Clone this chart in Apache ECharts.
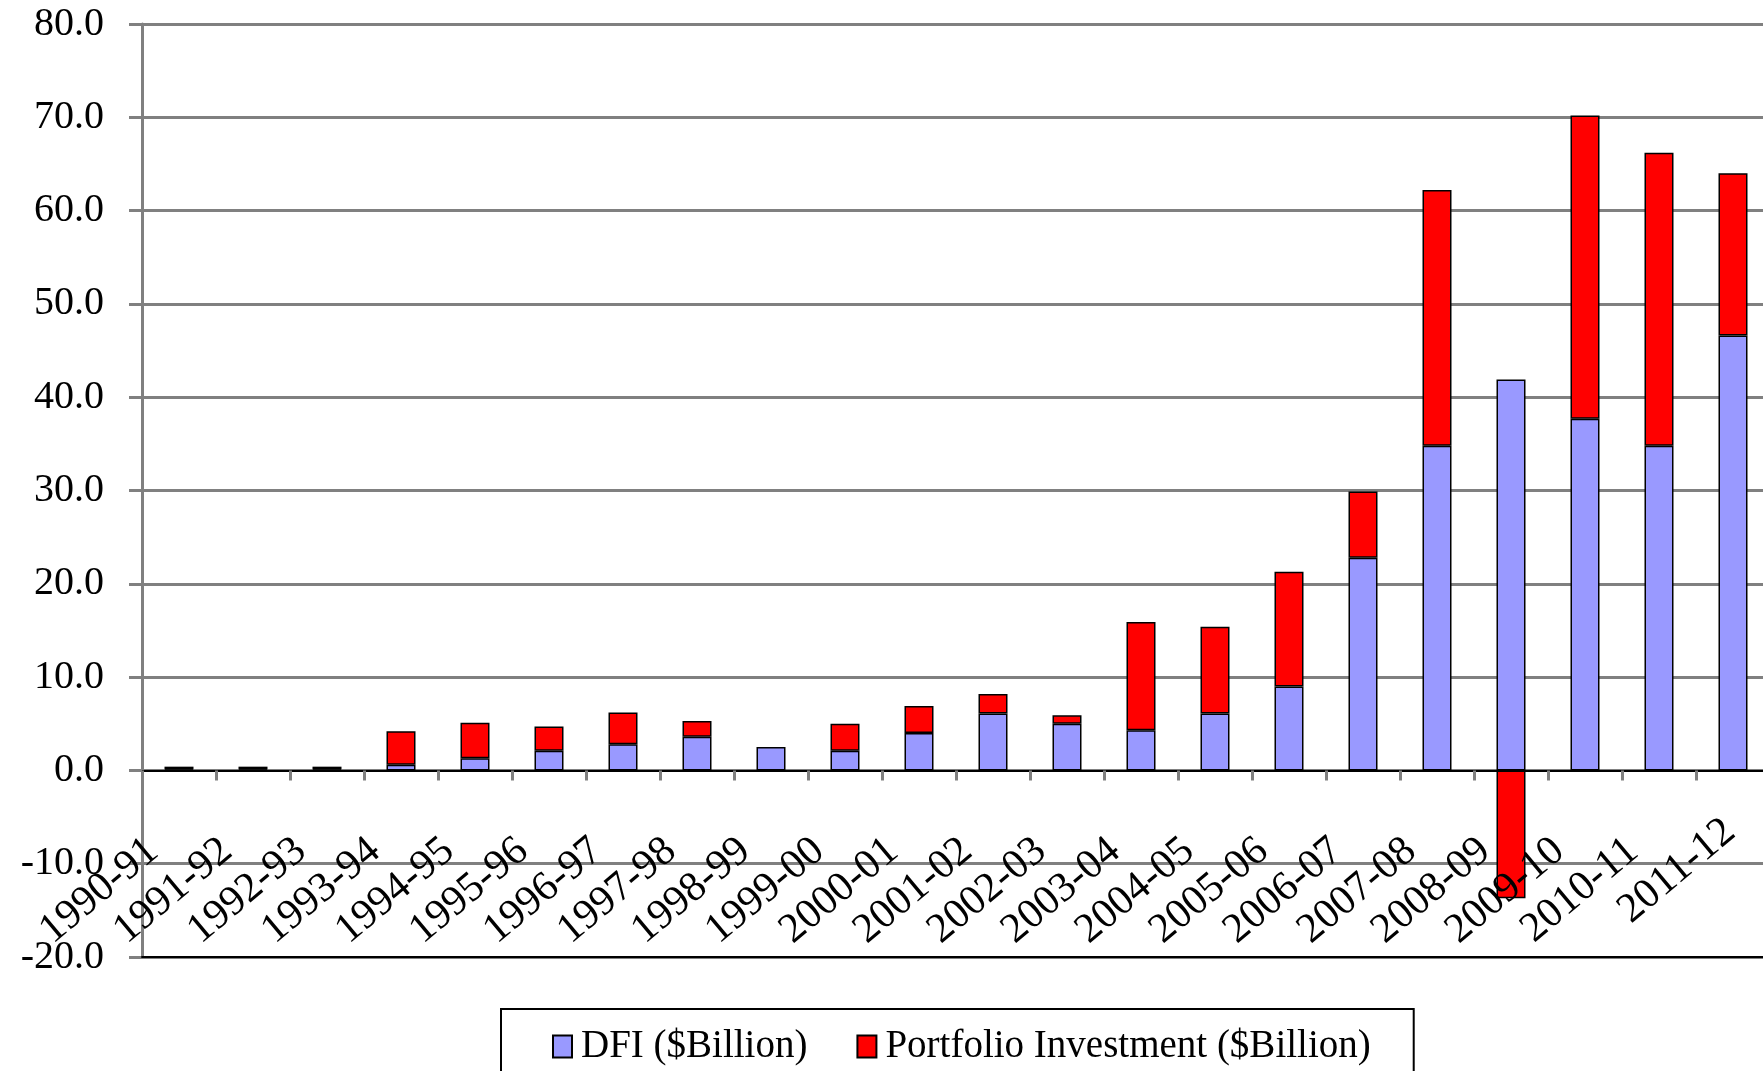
<!DOCTYPE html>
<html>
<head>
<meta charset="utf-8">
<script src="https://cdn.jsdelivr.net/npm/echarts@6/dist/echarts.min.js"></script>
<style>
  html, body { margin: 0; padding: 0; background: #fff; }
  #chart { width: 1763px; height: 1071px; }
</style>
</head>
<body>
<div id="chart"></div>
<script>
const categories = ['1990-91','1991-92','1992-93','1993-94','1994-95','1995-96','1996-97','1997-98','1998-99','1999-00','2000-01','2001-02','2002-03','2003-04','2004-05','2005-06','2006-07','2007-08','2008-09','2009-10','2010-11','2011-12'];
const dfi = [0.1, 0.1, 0.1, 0.6, 1.3, 2.1, 2.8, 3.6, 2.5, 2.1, 4.0, 6.1, 5.0, 4.3, 6.1, 9.0, 22.8, 34.8, 41.9, 37.7, 34.8, 46.6];
const portfolio = [0.3, 0.3, 0.3, 3.6, 3.8, 2.6, 3.4, 1.7, -0.1, 2.9, 2.9, 2.1, 0.9, 11.6, 9.3, 12.3, 7.1, 27.4, -13.7, 32.5, 31.4, 17.4];
const seriesNames = ['DFI ($Billion)', 'Portfolio Investment ($Billion)'];
const yMin = -20, yMax = 80, yStep = 10;

const FONT = '"Liberation Serif", "Times New Roman", serif';
// last label sits slightly further along its baseline in the original
const labelData = categories.map((c, i) =>
  i === categories.length - 1 ? { value: c, textStyle: { padding: [0, 4, 0, 0] } } : c);

const chart = echarts.init(document.getElementById('chart'), null, { renderer: 'canvas' });
chart.setOption({
  animation: false,
  backgroundColor: '#fff',
  grid: { left: 142, top: 24, width: 1628, height: 933, containLabel: false, outerBoundsMode: 'none' },
  legend: {
    left: 501, top: 1009, orient: 'horizontal',
    itemWidth: 19, itemHeight: 22, itemGap: 49,
    padding: [18, 43, 40, 51],
    borderColor: '#000', borderWidth: 2,
    textStyle: { fontSize: 39, fontFamily: FONT, color: '#000', padding: [0, 0, 0, 4] },
    data: [{ name: seriesNames[0], icon: 'rect' }, { name: seriesNames[1], icon: 'rect' }]
  },
  xAxis: [{
    // bottom frame line + category labels
    type: 'category', data: labelData, position: 'bottom', z: 3,
    axisLine: { onZero: false, lineStyle: { color: '#000', width: 2 } },
    axisTick: { show: false },
    axisLabel: { interval: 0, rotate: 40, margin: -133, fontSize: 42, fontFamily: FONT, color: '#000',
                 padding: [0, 34, 0, 0] },
    splitLine: { show: false }
  }, {
    // zero line with ticks
    type: 'category', data: categories, position: 'bottom',
    axisLine: { onZero: true, lineStyle: { color: '#000', width: 2 } },
    axisTick: { show: true, length: 10, lineStyle: { color: '#808080', width: 3 } },
    axisLabel: { show: false }, splitLine: { show: false }
  }],
  yAxis: {
    type: 'value', min: yMin, max: yMax, interval: yStep,
    axisLine: { show: true, lineStyle: { color: '#808080', width: 3 } },
    axisTick: { show: true, length: 13, lineStyle: { color: '#808080', width: 3 } },
    splitLine: { show: true, lineStyle: { color: '#808080', width: 3 } },
    axisLabel: { margin: 38, fontSize: 40, fontFamily: FONT, color: '#000', padding: [8, 0, 0, 0],
                 formatter: v => v.toFixed(1) }
  },
  series: [{
    name: seriesNames[0], type: 'bar', stack: 'total', barWidth: 29, data: dfi,
    itemStyle: { color: '#9999FF', borderColor: '#000', borderWidth: 1.5 }
  }, {
    name: seriesNames[1], type: 'bar', stack: 'total', barWidth: 29, data: portfolio,
    itemStyle: { color: '#FF0000', borderColor: '#000', borderWidth: 1.5 }
  }]
});
</script>
</body>
</html>
